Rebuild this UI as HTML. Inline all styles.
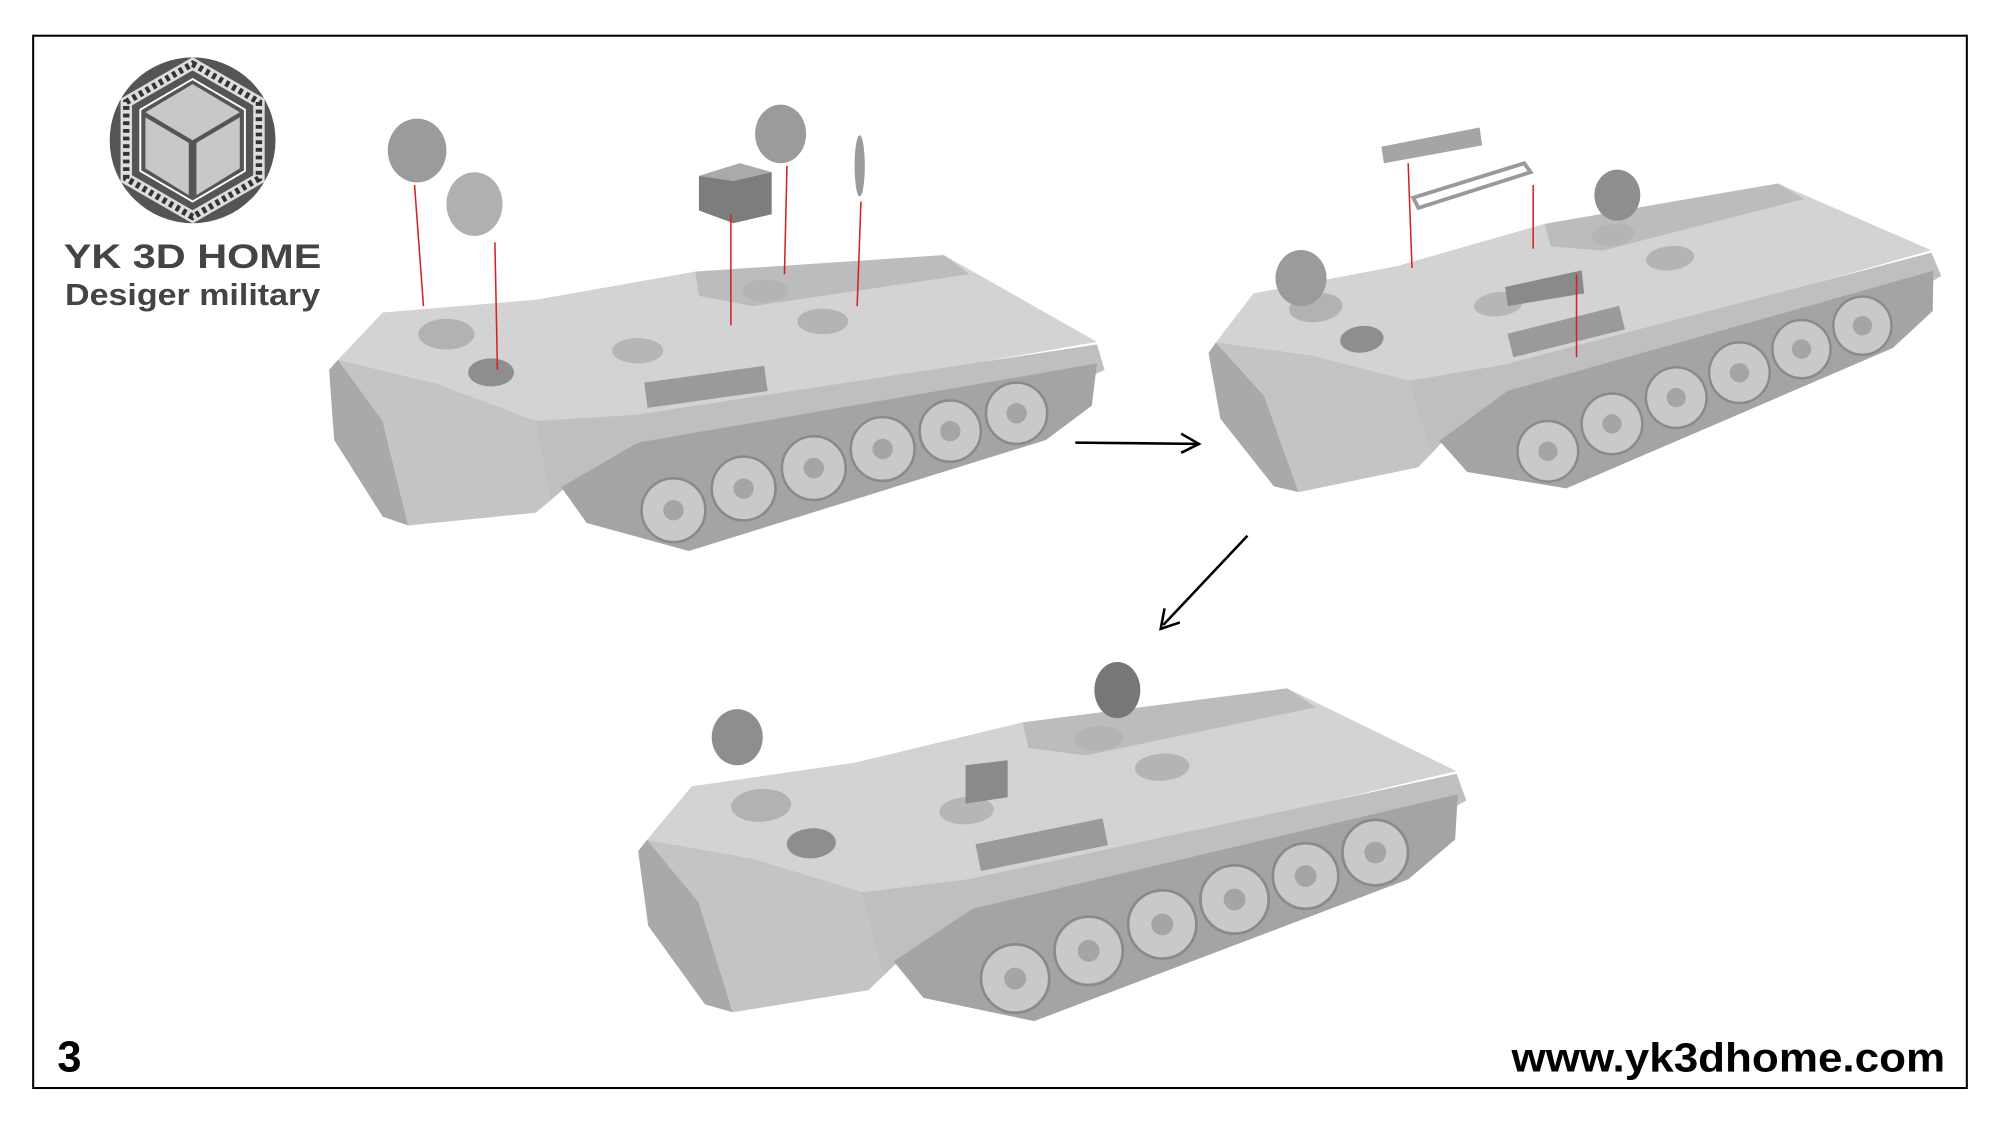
<!DOCTYPE html>
<html><head><meta charset="utf-8"><style>
html,body{margin:0;padding:0;background:#fff;}
svg{display:block;}
</style></head><body>
<svg width="2000" height="1125" viewBox="0 0 1568 882" xmlns="http://www.w3.org/2000/svg">
<defs>
<g id="tank">
  <polygon points="258,290 265,282 300,330 320,412 300,405 262,345" fill="#a9a9a9"/>
  <polygon points="265,282 300,330 320,412 420,402 432,392 420,322 340,300" fill="#c4c4c4"/>
  <polygon points="265,282 300,245 420,235 545,213 740,200 860,268 620,310 500,325 420,330 340,300" fill="#d3d3d3"/>
  <polygon points="420,330 500,325 860,270 866,290 840,302 500,347 440,385 432,392" fill="#bfbfbf"/>
  <polygon points="440,382 500,347 860,285 856,318 820,345 540,432 460,410" fill="#a4a4a4"/>
  <polygon points="545,213 740,200 760,215 590,240 548,232" fill="#bcbcbc"/>
  <rect x="505" y="300" width="95" height="20" fill="#9a9a9a" transform="rotate(-8 505 300)"/>
  <ellipse cx="350" cy="262" rx="22" ry="12" fill="#b2b2b2"/>
  <ellipse cx="385" cy="292" rx="18" ry="11" fill="#8e8e8e"/>
  <ellipse cx="500" cy="275" rx="20" ry="10" fill="#b6b6b6"/>
  <ellipse cx="600" cy="228" rx="18" ry="9" fill="#b4b4b4"/>
  <ellipse cx="645" cy="252" rx="20" ry="10" fill="#b4b4b4"/>
  <g fill="#c9c9c9" stroke="#8a8a8a" stroke-width="2">
    <circle cx="528" cy="400" r="25"/><circle cx="583" cy="383" r="25"/>
    <circle cx="638" cy="367" r="25"/><circle cx="692" cy="352" r="25"/>
    <circle cx="745" cy="338" r="24"/><circle cx="797" cy="324" r="24"/>
  </g>
  <g fill="#a5a5a5">
    <circle cx="528" cy="400" r="8"/><circle cx="583" cy="383" r="8"/>
    <circle cx="638" cy="367" r="8"/><circle cx="692" cy="352" r="8"/>
    <circle cx="745" cy="338" r="8"/><circle cx="797" cy="324" r="8"/>
  </g>
</g>
</defs>
<rect x="26" y="28" width="1516" height="825" fill="none" stroke="#000" stroke-width="1.6"/>
<!-- logo -->
<circle cx="151" cy="110" r="65" fill="#555"/>
<polygon points="151,50 203,80 203,140 151,170 99,140 99,80" fill="none" stroke="#ddd" stroke-width="9"/>
<polygon points="151,50 203,80 203,140 151,170 99,140 99,80" fill="none" stroke="#333" stroke-width="5" stroke-dasharray="3 3"/>
<polygon points="151,62 192,86 192,134 151,158 110,134 110,86" fill="#555" stroke="#fff" stroke-width="1.5"/>
<polygon points="151,66 188,88 151,110 114,88" fill="#c8c8c8"/>
<polygon points="114,92 148,112 148,153 114,132" fill="#c8c8c8"/>
<polygon points="188,92 154,112 154,153 188,132" fill="#c8c8c8"/>
<text x="151" y="210" font-family="Liberation Sans, sans-serif" font-weight="bold" font-size="27" fill="#444" text-anchor="middle" textLength="202" lengthAdjust="spacingAndGlyphs">YK 3D HOME</text>
<text x="151" y="239" font-family="Liberation Sans, sans-serif" font-weight="bold" font-size="24" fill="#444" text-anchor="middle" textLength="200" lengthAdjust="spacingAndGlyphs">Desiger military</text>
<!-- tank 1 -->
<use href="#tank"/>
<g fill="#9b9b9b">
  <ellipse cx="327" cy="118" rx="23" ry="25"/>
  <ellipse cx="372" cy="160" rx="22" ry="25" fill="#b0b0b0"/>
  <ellipse cx="612" cy="105" rx="20" ry="23"/>
  <ellipse cx="674" cy="130" rx="4" ry="24"/>
</g>
<polygon points="548,138 580,128 605,135 605,168 575,175 548,165" fill="#7d7d7d"/>
<polygon points="548,138 580,128 605,135 575,142" fill="#aaa"/>
<g stroke="#d42020" stroke-width="1.2">
  <line x1="325" y1="145" x2="332" y2="240"/><line x1="388" y1="190" x2="390" y2="290"/>
  <line x1="573" y1="168" x2="573" y2="255"/><line x1="617" y1="130" x2="615" y2="215"/>
  <line x1="675" y1="158" x2="672" y2="240"/>
</g>
<!-- tank 2 -->
<use href="#tank" transform="translate(947,272) rotate(-6) scale(0.95) translate(-258,-285)"/>
<ellipse cx="1020" cy="218" rx="20" ry="22" fill="#9b9b9b"/>
<ellipse cx="1268" cy="153" rx="18" ry="20" fill="#8e8e8e"/>
<polygon points="1083,115 1160,100 1162,114 1085,128" fill="#a5a5a5"/>
<polygon points="1108,155 1195,128 1200,135 1112,163" fill="none" stroke="#999" stroke-width="3"/>
<polygon points="1180,225 1240,212 1242,230 1182,240" fill="#8a8a8a"/>
<g stroke="#d42020" stroke-width="1.2">
  <line x1="1104" y1="128" x2="1107" y2="210"/><line x1="1202" y1="145" x2="1202" y2="195"/>
  <line x1="1236" y1="215" x2="1236" y2="280"/>
</g>
<!-- tank 3 -->
<use href="#tank" transform="translate(500,662) rotate(-3.5) scale(1.07) translate(-258,-285)"/>
<ellipse cx="578" cy="578" rx="20" ry="22" fill="#8e8e8e"/>
<ellipse cx="876" cy="541" rx="18" ry="22" fill="#777"/>
<polygon points="757,600 790,596 790,625 757,630" fill="#8a8a8a"/>
<!-- arrows -->
<g stroke="#000" stroke-width="2" fill="none">
  <line x1="843" y1="347" x2="938" y2="348"/>
  <polyline points="926,340 940,348 926,355"/>
  <line x1="978" y1="420" x2="912" y2="490"/>
  <polyline points="913,477 910,493 925,488"/>
</g>
<text x="45" y="840" font-family="Liberation Sans, sans-serif" font-weight="bold" font-size="34" fill="#000">3</text>
<text x="1525" y="840" font-family="Liberation Sans, sans-serif" font-weight="bold" font-size="32" fill="#000" text-anchor="end" textLength="340" lengthAdjust="spacingAndGlyphs">www.yk3dhome.com</text>
</svg>
</body></html>
